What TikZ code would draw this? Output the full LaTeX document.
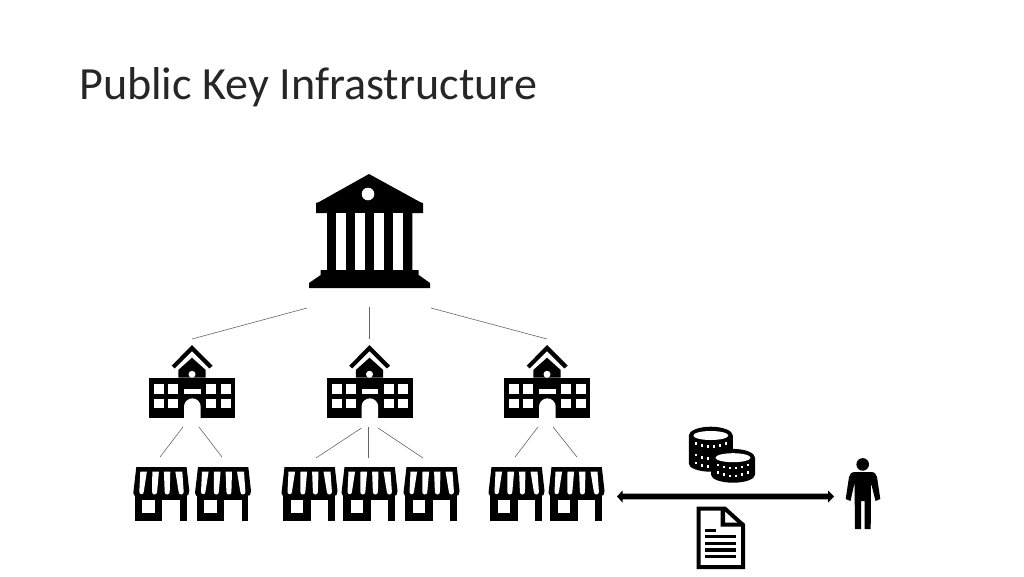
\documentclass[tikz,border=0pt]{standalone}
\usepackage{fontspec}
\setmainfont{Carlito}
\usetikzlibrary{calc}
\tikzset{
  x=1pt,y=-1pt,
  icon/.style={inner sep=0pt,outer sep=0pt,draw=none},
  link/.style={draw=black!60,line width=0.6pt},
  blk/.style={fill=black,draw=none},
  wht/.style={fill=white,draw=none},
  bank/.pic={
    \fill[blk] (0,0) -- (51,28) -- (54,29) -- (54,39) -- (43.3,39) -- (43.3,96) -- (49.7,96) -- (49.7,101) -- (61,109) -- (61,114) -- (-60,114) -- (-60,109) -- (-48.3,101) -- (-48.3,96) -- (-42,96) -- (-42,39) -- (-53,39) -- (-53,29) -- (-50,28) -- cycle;
    \foreach \c in {-27.8,-8.8,10.2,29.2}{\fill[wht] (\c-4.8,39) rectangle (\c+4.8,96);}
    \fill[wht] (-1,20) circle (6.3);
  },
  school/.pic={
    \fill[blk] (-43,32.7) rectangle (43,73.3);
    \fill[blk] (-13.7,32.7) -- (-13.7,25) -- (0,12.7) -- (13.7,25) -- (13.7,32.7) -- cycle;
    \fill[blk] (-20.3,20.7) -- (0,0) -- (20.7,20.7) -- (17.4,23.4) -- (0,6.2) -- (-17.4,23.4) -- cycle;
    \fill[wht] (0,29.3) circle (3.5);
    \foreach \a in {-37.7,-23.7,14.3,28.7}{
      \foreach \b in {39.3,53.7}{\fill[wht] (\a,\b) rectangle ++(9.8,9.5);}}
    \fill[wht] (-8,43.7) rectangle (8.7,48.7);
    \fill[wht] (-8,74) -- (-8,61.7) arc[start angle=180,end angle=360,radius=8.35] -- (8.7,74) -- cycle;
  },
  shop/.pic={
    \fill[blk] (3,0) -- (53.3,0) -- (56,24) -- (55,28) -- (52,29) -- (1.5,29) -- (0,26) -- cycle;
    \fill[blk] (1.9,25) rectangle (53.3,53.5);
    \fill[wht] (7,4.5) -- (13.6,4.5) -- (10.4,25) arc[start angle=0,end angle=180,radius=2.2] -- cycle;
    \fill[wht] (19,4.5) -- (25.6,4.5) -- (23.8,25) arc[start angle=0,end angle=180,radius=2.5] -- cycle;
    \fill[wht] (30.6,4.5) -- (37,4.5) -- (36.4,25) arc[start angle=0,end angle=180,radius=2.5] -- cycle;
    \fill[wht] (42,4.5) -- (49,4.5) -- (50.4,25) arc[start angle=0,end angle=180,radius=2.5] -- cycle;
    \fill[wht] (9,33) rectangle (21.7,46.3);
    \fill[wht] (29,33) rectangle (46.8,54);
  }
}
\newcommand{\coinstack}[4]{% cx, top centre y, bottom centre y, rx
  \fill[black] (#1-#4,#2) -- (#1-#4,#3) arc[x radius=#4,y radius=8,start angle=180,end angle=0] -- (#1+#4,#2) arc[x radius=#4,y radius=8.8,start angle=0,end angle=-180] -- cycle;
  \fill[white] (#1,#2) ellipse (#4-4.5 and 4.5);
}
\newcommand{\coinrow}[2]{% cx, y at the edge of the row
  \foreach \i in {-15,-9,-3,3,9,15}{
    \fill[white] ({#1+\i-1.3},{#2+3.5*(1-\i*\i/225)-1.3}) rectangle ++(2.6,2.6);}
}
\begin{document}
\begin{tikzpicture}
\useasboundingbox (0,0) rectangle (1024,576);
\fill[white] (0,0) rectangle (1024,576);
\node[anchor=base west,font=\fontsize{46.1}{50}\selectfont,inner sep=0pt,text=black!85] (title) at (79,99) {Public Key Infrastructure};

% icon frames
\node[icon,minimum width=122pt,minimum height=133pt] (bankN) at (370,240.5) {};
\foreach \n/\cx in {sa/192,sb/369.5,sc/547}{
  \node[icon,minimum width=86pt,minimum height=88pt] (\n) at (\cx,383) {};
}
\foreach \n/\cx in {ta/161,tb/223,tc/309.5,td/369.5,te/431.5,tf/516.5,tg/576.5}{
  \node[icon,minimum width=56pt,minimum height=64pt] (\n) at (\cx,489) {};
}
\node[icon,minimum width=35pt,minimum height=72pt] (person) at (863,494) {};
\node[icon,minimum width=48pt,minimum height=62pt] (doc) at (721,538) {};
\node[icon,minimum width=68pt,minimum height=56pt] (coinsN) at (721.5,455) {};

% icons
\pic at (369,174) {bank};
\foreach \cx in {192,369.5,547}{\pic at (\cx,345) {school};}
\foreach \l in {133.3,195,281.5,341.5,403.5,488.5,548.5}{\pic at (\l,467) {shop};}

% connectors
\draw[link] (bankN.south west) ++(-2,1) -- (sa.north);
\draw[link] (369.5,307) -- (sb.north);
\draw[link] (bankN.south east) ++(0,1) -- (sc.north);
\draw[link] ($(sa.south)+(-9,0)$) -- ($(ta.north)+(-1,0)$);
\draw[link] ($(sa.south)+(7,0)$) -- ($(tb.north)+(-1,0)$);
\draw[link] ($(sb.south)+(-8,1)$) -- ($(tc.north)+(6.5,1)$);
\draw[link] ($(sb.south)+(-1.5,0)$) -- ($(td.north)+(-1.5,1)$);
\draw[link] ($(sb.south)+(8.5,1)$) -- ($(te.north)+(-8.5,1)$);
\draw[link] ($(sc.south)+(-9,0)$) -- ($(tf.north)+(-1.5,0)$);
\draw[link] ($(sc.south)+(6,0)$) -- ($(tg.north)+(0.5,0)$);

% coins
\coinstack{710.8}{435.5}{463.7}{22}
\coinrow{710.8}{443.2}
\coinrow{710.8}{455}
\coinrow{710.8}{463}
\coinstack{733}{457.7}{474.7}{22}
\coinrow{733}{464.8}
\coinrow{733}{472.5}

% arrow
\fill[black] (617,496.5) -- (622.5,490.5) -- (622.5,493.7) -- (828,493.7) -- (828,490.5) -- (834,496.5) -- (828,502.5) -- (828,499.3) -- (622.5,499.3) -- (622.5,502.5) -- cycle;

% document
\draw[black,line width=4pt,fill=white,line join=miter] (698.7,508.7) -- (725,508.7) -- (743,525) -- (743,567) -- (698.7,567) -- cycle;
\fill[black] (720.7,507) -- (725,507) -- (725,522.7) -- (744,522.7) -- (744,526.7) -- (720.7,526.7) -- cycle;
\fill[black] (705.3,529) rectangle (716,532.3);
\foreach \y in {535,541.7,548.3,554.7}{\fill[black] (705.3,\y) rectangle (736,\y+3.2);}

% person
\fill[black] (862.7,464.4) circle (6.3);
\fill[black] (855,472) -- (871,472) .. controls (875,472) and (876,474) .. (877,477) -- (880.3,499) -- (875.5,501) -- (871,483) -- (870.7,529) -- (864.5,529) -- (864.5,501) -- (861.2,501) -- (861.2,529) -- (855,529) -- (854.5,483) -- (850.5,501) -- (845.7,499) -- (849,477) .. controls (850,474) and (851,472) .. (855,472) -- cycle;
\end{tikzpicture}
\end{document}
